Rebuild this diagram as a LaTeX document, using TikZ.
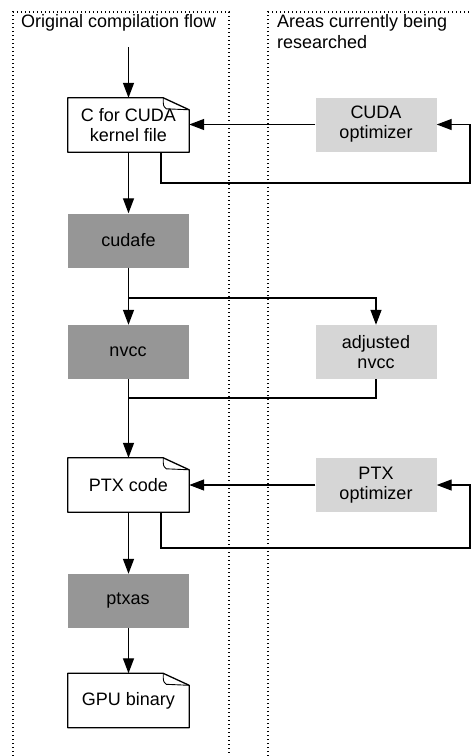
\documentclass[tikz,border=0pt]{standalone}
\usepackage{fontspec}
\setmainfont{Liberation Sans}
\usetikzlibrary{arrows.meta,calc}
\definecolor{darkbox}{HTML}{969696}
\definecolor{lightbox}{HTML}{D6D6D6}
\tikzset{
  box/.style={minimum width=121pt,minimum height=54pt,inner sep=0pt,align=center,
    font=\fontsize{18}{20}\selectfont},
  tool/.style={box,fill=darkbox},
  research/.style={box,fill=lightbox},
  docbox/.style={box},
  flow/.style={line width=1.3pt,-{Triangle[length=15pt,width=11pt]}},
  plainflow/.style={line width=1.3pt},
  panel/.style={line width=1.2pt,dash pattern=on 1.4pt off 2.6pt},
  title/.style={anchor=north west,inner sep=0pt,align=left,font=\fontsize{18}{20.5}\selectfont},
  docline/.style={line width=1.3pt,line join=round}
}
\newcommand{\docshape}[1]{%
  \draw[docline] (#1.north west) -- ([xshift=-26pt]#1.north east)
    -- ([yshift=-12pt]#1.north east) -- (#1.south east) -- (#1.south west) -- cycle;
  \draw[line width=0.9pt,line join=round] ([xshift=-26pt]#1.north east)
    .. controls ([xshift=-26pt,yshift=-8pt]#1.north east) .. ([xshift=-23pt,yshift=-11pt]#1.north east)
    -- ([yshift=-12pt]#1.north east);
}
\begin{document}
\begin{tikzpicture}[x=1pt,y=-1pt]
\useasboundingbox (0,0) rectangle (475,756);
% panels
\draw[panel] (13,756) -- (13,12) -- (229,12) -- (229,756);
\draw[panel] (268,756) -- (268,12) -- (471,12);
\node[title] (t1) at (21,14.5) {Original compilation flow};
\node[title] (t2) at (277,14.5) {Areas currently being\\researched};
% nodes
\node[docbox] (cfile) at (128.5,125) {C for CUDA\\kernel file};
\node[research] (cudaopt) at (376,124.5) {CUDA\\optimizer};
\node[tool] (cudafe) at (128.5,240.5) {cudafe};
\node[tool] (nvcc) at (128,352) {nvcc};
\node[research] (adj) at (376,352) {adjusted\\nvcc};
\node[docbox] (ptx) at (128.5,485) {PTX code};
\node[research] (ptxopt) at (376,485) {PTX\\optimizer};
\node[tool] (ptxas) at (128,601) {ptxas};
\node[docbox] (gpu) at (128.5,700.5) {GPU binary};
\docshape{cfile}
\docshape{ptx}
\docshape{gpu}
% coordinates
\coordinate (in0) at (128.5,47);
\coordinate (fb1) at (470,183);
\coordinate (j1) at (128.5,298);
\coordinate (j2) at (128.5,398);
\coordinate (fb2) at (470,548);
% connectors
\draw[flow] (in0) -- (cfile.north);
\draw[flow] (cudaopt.west) -- (cudaopt.west -| cfile.east);
\draw[flow] ([xshift=32.5pt]cfile.south) |- (fb1) |- (cudaopt.east);
\draw[flow] (cfile.south) -- (cudafe.north);
\draw[flow] (cudafe.south) -- (nvcc.north -| cudafe.south);
\draw[flow] (j1) -| (adj.north);
\draw[flow] (nvcc.south -| ptx.north) -- (ptx.north);
\draw[plainflow] (adj.south) |- (j2);
\draw[flow] (ptxopt.west) -- (ptxopt.west -| ptx.east);
\draw[flow] ([xshift=32.5pt]ptx.south) |- (fb2) |- (ptxopt.east);
\draw[flow] (ptx.south) -- (ptxas.north -| ptx.south);
\draw[flow] (ptxas.south -| gpu.north) -- (gpu.north);
\end{tikzpicture}
\end{document}
